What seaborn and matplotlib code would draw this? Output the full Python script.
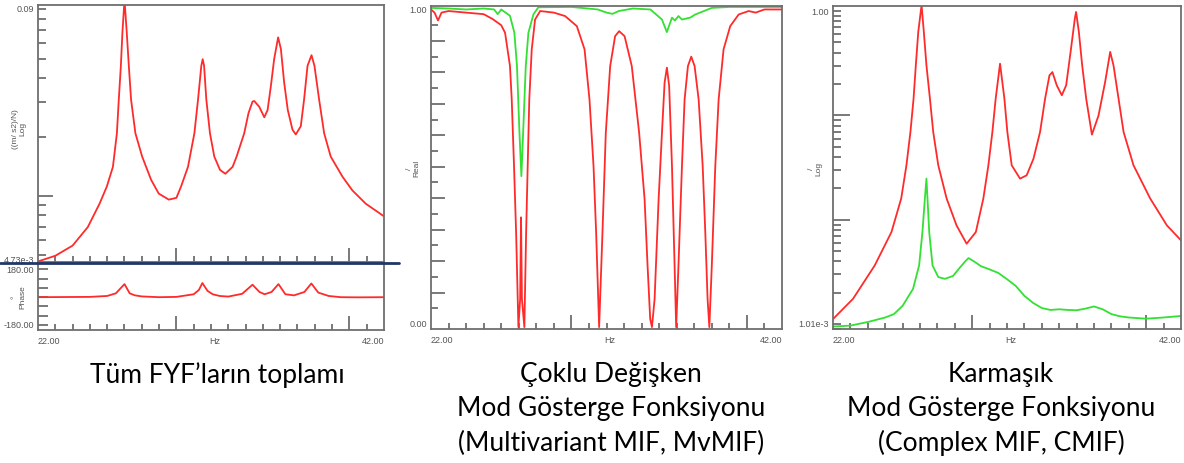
import numpy as np
import pandas as pd
import matplotlib
matplotlib.use("Agg")
import matplotlib.pyplot as plt
import matplotlib.transforms as mtrans
import seaborn as sns
from matplotlib.lines import Line2D
from matplotlib.ticker import FixedLocator, NullFormatter, LogLocator, NullLocator

# ---------------- data ----------------
# Left: sum of FRFs (log magnitude)
sum_hz = [22.0, 23.0, 24.0, 24.88, 25.56, 25.98, 26.33, 26.56, 26.67, 26.79, 26.88, 27.0,
          27.13, 27.25, 27.38, 27.63, 28.02, 28.54, 28.98, 29.56, 30.0, 30.27, 30.67, 31.04,
          31.25, 31.44, 31.52, 31.6, 31.73, 31.94, 32.19, 32.52, 32.83, 33.25, 33.48, 33.92,
          34.17, 34.4, 34.5, 34.79, 35.08, 35.27, 35.46, 35.65, 35.88, 36.04, 36.23, 36.44,
          36.71, 36.9, 37.19, 37.38, 37.58, 37.81, 37.98, 38.25, 38.54, 38.92, 39.6, 40.17,
          40.94, 42.0]
sum_mag = [0.00465, 0.00497, 0.0056, 0.00696, 0.00916, 0.0112, 0.0141, 0.0209, 0.0310,
           0.0461, 0.0682, 0.10, 0.0682, 0.0461, 0.0310, 0.0209, 0.0159, 0.0121, 0.0103,
           0.0096, 0.0098, 0.0112, 0.0141, 0.0209, 0.0310, 0.0461, 0.0498, 0.0461, 0.0310,
           0.0209, 0.0159, 0.0136, 0.0130, 0.0141, 0.0159, 0.0209, 0.0265, 0.0303, 0.0305,
           0.0285, 0.0252, 0.0274, 0.0363, 0.0498, 0.0643, 0.0561, 0.0378, 0.0274, 0.0218,
           0.0206, 0.0227, 0.0310, 0.0461, 0.0522, 0.0461, 0.0310, 0.0209, 0.0159, 0.01256,
           0.0107, 0.00916, 0.00789]

phase_hz = [22.0, 25.0, 26.0, 26.5, 27.0, 27.3, 27.6, 28.0, 29.0, 30.0, 31.0, 31.3, 31.5,
            31.8, 32.1, 32.5, 33.0, 33.8, 34.4, 34.8, 35.1, 35.5, 35.9, 36.3, 36.8, 37.4,
            37.8, 38.2, 38.8, 39.5, 40.5, 42.0]
phase_deg = [0, 2, 8, 25, 85, 25, 12, 5, 0, 2, 19, 47, 92, 41, 19, 8, 4, 22, 81, 34, 19,
             34, 85, 19, 12, 34, 89, 30, 8, 0, -1, 0]

# Middle: MvMIF (real)
mv_hz = [22.0, 22.2, 22.4, 22.6, 23.0, 24.0, 25.0, 25.5, 26.0, 26.22, 26.5, 26.6, 26.73,
         26.85, 26.98, 27.08, 27.13, 27.18, 27.32, 27.42, 27.51, 27.6, 27.74, 27.93, 28.22,
         29.0, 29.64, 30.31, 30.75, 31.03, 31.26, 31.41, 31.58, 31.77, 31.96, 32.21, 32.49,
         32.72, 33.03, 33.44, 33.86, 34.17, 34.34, 34.49, 34.59, 34.74, 34.97, 35.16, 35.31,
         35.44, 35.57, 35.73, 35.88, 35.97, 36.1, 36.3, 36.45, 36.64, 36.83, 37.02, 37.25,
         37.48, 37.63, 37.76, 37.86, 38.0, 38.2, 38.39, 38.67, 39.05, 39.53, 40.1, 40.5,
         41.0, 42.0]
mv_red = [1.0, 0.99, 0.965, 0.99, 0.995, 0.99, 0.985, 0.97, 0.95, 0.926, 0.82, 0.714, 0.503,
          0.29, -0.01, 0.08, 0.339, 0.08, -0.01, 0.29, 0.503, 0.714, 0.873, 0.968, 0.995,
          0.99, 0.979, 0.947, 0.873, 0.714, 0.503, 0.29, -0.01, 0.29, 0.608, 0.82, 0.915,
          0.931, 0.915, 0.82, 0.608, 0.397, 0.185, 0.016, -0.01, 0.079, 0.397, 0.608, 0.767,
          0.815, 0.757, 0.503, 0.185, -0.01, 0.185, 0.503, 0.714, 0.82, 0.85, 0.82, 0.714,
          0.503, 0.29, 0.079, -0.01, 0.185, 0.503, 0.714, 0.873, 0.947, 0.984, 0.995, 0.99,
          1.0, 1.0]
mv_green_hz = [22.0, 23.0, 24.0, 25.0, 25.6, 25.8, 26.0, 26.5, 26.75, 26.9, 27.04, 27.15,
               27.25, 27.4, 27.55, 27.84, 28.12, 30.0, 31.5, 32.0, 32.34, 32.7, 33.5, 34.5,
               35.16, 35.44, 35.73, 35.9, 36.1, 36.3, 36.77, 37.06, 38.0, 39.0, 42.0]
mv_green = [1.005, 1.003, 1.0, 1.003, 1.0, 0.985, 1.0, 0.98, 0.926, 0.82, 0.608, 0.47,
            0.608, 0.82, 0.926, 0.985, 1.007, 1.008, 1.0, 0.99, 0.986, 0.995, 1.003, 1.0,
            0.968, 0.928, 0.974, 0.965, 0.979, 0.968, 0.974, 0.984, 1.005, 1.008, 1.008]

# Right: CMIF (log)
cm_hz = [22.0, 23.15, 24.4, 25.36, 25.92, 26.22, 26.45, 26.63, 26.76, 26.9, 27.09, 27.22,
         27.37, 27.57, 27.76, 28.05, 28.53, 29.1, 29.68, 30.21, 30.64, 30.93, 31.16, 31.35,
         31.6, 31.85, 32.02, 32.27, 32.75, 33.13, 33.52, 33.9, 34.19, 34.44, 34.61, 34.86,
         35.15, 35.4, 35.68, 35.9, 35.97, 36.13, 36.32, 36.55, 36.88, 37.26, 37.64, 37.93,
         38.12, 38.41, 38.7, 39.27, 40.23, 41.19, 42.0]
cm_red = [0.00112, 0.00175, 0.00366, 0.00764, 0.0160, 0.0333, 0.0694, 0.145, 0.302, 0.631,
          1.14, 0.631, 0.302, 0.145, 0.0694, 0.0333, 0.0160, 0.00884, 0.0059, 0.00764,
          0.0160, 0.0333, 0.0694, 0.145, 0.313, 0.145, 0.0694, 0.0333, 0.0248, 0.0267,
          0.0384, 0.0694, 0.145, 0.242, 0.260, 0.194, 0.156, 0.194, 0.437, 0.85, 0.98,
          0.631, 0.302, 0.145, 0.0655, 0.0998, 0.209, 0.406, 0.302, 0.145, 0.0694, 0.0333,
          0.0160, 0.00884, 0.00636]
cm_green_hz = [22.0, 23.0, 24.0, 25.0, 25.5, 26.0, 26.6, 26.95, 27.14, 27.28, 27.37, 27.45,
               27.53, 27.72, 28.05, 28.43, 28.9, 29.3, 29.6, 29.79, 30.1, 30.5, 31.0, 31.5,
               32.0, 32.5, 33.0, 33.5, 34.0, 34.5, 35.0, 35.5, 36.0, 36.5, 37.0, 37.5, 38.0,
               38.5, 39.0, 40.0, 41.0, 42.0]
cm_green = [0.00095, 0.00097, 0.00105, 0.00116, 0.00125, 0.0015, 0.00218, 0.00366, 0.00764,
            0.0160, 0.0248, 0.0138, 0.00764, 0.00366, 0.00283, 0.00272, 0.0029, 0.0035,
            0.0040, 0.0043, 0.0040, 0.0036, 0.00335, 0.0031, 0.0027, 0.00233, 0.00187,
            0.0016, 0.00143, 0.00137, 0.00139, 0.00137, 0.00136, 0.00141, 0.00148, 0.00139,
            0.00125, 0.00119, 0.00116, 0.00113, 0.00116, 0.0012]

captions_left = ["Tüm FYF’ların toplamı"]
captions_mid = ["Çoklu Değişken", "Mod Gösterge Fonksiyonu", "(Multivariant MIF, MvMIF)"]
captions_right = ["Karmaşık", "Mod Gösterge Fonksiyonu", "(Complex MIF, CMIF)"]

# ---------------- style ----------------
sns.set_style("white")
plt.rcParams['font.family'] = ['Liberation Sans', 'DejaVu Sans']

RED = '#ff2a2a'
GREEN = '#33e033'
SPINE = '#6e6e6e'
TXT = '#555555'
W, H = 1184, 464

fig = plt.figure(figsize=(W / 100, H / 100), dpi=100)


def box(l, t, r, b):
    return [l / W, 1 - b / H, (r - l) / W, (b - t) / H]


def style(ax):
    for s in ax.spines.values():
        s.set_color(SPINE)
        s.set_linewidth(1.3)
    ax.set_facecolor('white')
    ax.tick_params(which='both', direction='in', colors=SPINE, width=1.3,
                   labelleft=False, labelbottom=False, left=True, bottom=True,
                   right=False, top=False)
    ax.set_xlim(22, 42)
    ax.xaxis.set_major_locator(FixedLocator([30, 40]))
    ax.xaxis.set_minor_locator(FixedLocator([h for h in range(23, 42) if h not in (30, 40)]))
    ax.tick_params(axis='x', which='major', length=10)
    ax.tick_params(axis='x', which='minor', length=4)
    ax.set_xlabel('')
    ax.set_ylabel('')


def bottom_labels(ax, px_below=6):
    off = mtrans.offset_copy(ax.get_xaxis_transform(), fig=fig, x=0,
                             y=-px_below * 0.72, units='points')
    ax.text(22.0, 0, '22.00', transform=off, fontsize=6.5, color=TXT, ha='left', va='top')
    ax.text(32.2, 0, 'Hz', transform=off, fontsize=6.5, color=TXT, ha='center', va='top')
    ax.text(42.0, 0, '42.00', transform=off, fontsize=6.5, color=TXT, ha='right', va='top')


def ylab(ax, y, s):
    tr = mtrans.offset_copy(ax.get_yaxis_transform(), fig=fig, x=-3, y=0, units='points')
    ax.text(0, y, s, transform=tr, fontsize=6.5, color=TXT, ha='right', va='center')


# ---------------- left: sum of FRFs ----------------
ax1 = fig.add_axes(box(38, 6, 384, 263))
sns.lineplot(x=sum_hz, y=sum_mag, ax=ax1, color=RED, lw=1.3, sort=False)
ax1.set_yscale('log')
ax1.set_ylim(0.00462, 0.094)
style(ax1)
ax1.yaxis.set_major_locator(FixedLocator([0.01]))
ax1.yaxis.set_minor_locator(FixedLocator([0.005, 0.006, 0.007, 0.008, 0.009, 0.02, 0.03,
                                          0.04, 0.05, 0.06, 0.07, 0.08, 0.09]))
ax1.yaxis.set_minor_formatter(NullFormatter())
ax1.tick_params(axis='y', which='major', length=11)
ax1.tick_params(axis='y', which='minor', length=6)
ylab(ax1, 0.09, '0.09')
ylab(ax1, 0.00478, '4.73e-3')
ax1.text(-0.055, 0.52, '((m/ s2)/N)\nLog', transform=ax1.transAxes, rotation=90,
         fontsize=6, color=TXT, ha='center', va='center', linespacing=1.1)

ax1p = fig.add_axes(box(38, 264, 384, 331))
sns.lineplot(x=phase_hz, y=phase_deg, ax=ax1p, color=RED, lw=1.3, sort=False)
ax1p.set_ylim(-213, 222)
style(ax1p)
ax1p.yaxis.set_major_locator(FixedLocator([-180, -120, -60, 0, 60, 120, 180]))
ax1p.yaxis.set_minor_locator(NullLocator())
ax1p.tick_params(axis='y', which='major', length=7)
ylab(ax1p, 180, '180.00')
ylab(ax1p, -180, '-180.00')
ax1p.text(-0.055, 0.5, '°\nPhase', transform=ax1p.transAxes, rotation=90,
          fontsize=6, color=TXT, ha='center', va='center', linespacing=1.1)
bottom_labels(ax1p)

fig.add_artist(Line2D([0, 399 / W], [1 - 264 / H] * 2, color='#1f3868', lw=2.0))

# ---------------- middle: MvMIF ----------------
ax2 = fig.add_axes(box(431, 7, 782, 330))
sns.lineplot(x=mv_hz, y=mv_red, ax=ax2, color=RED, lw=1.3, sort=False)
sns.lineplot(x=mv_green_hz, y=mv_green, ax=ax2, color=GREEN, lw=1.3, sort=False)
ax2.set_ylim(-0.016, 1.011)
style(ax2)
ax2.yaxis.set_major_locator(FixedLocator([0.1 * i for i in range(1, 10)]))
ax2.yaxis.set_minor_locator(FixedLocator([0.05 + 0.1 * i for i in range(10)]))
ax2.yaxis.set_minor_formatter(NullFormatter())
ax2.tick_params(axis='y', which='major', length=10)
ax2.tick_params(axis='y', which='minor', length=5)
ylab(ax2, 1.0, '1.00')
ylab(ax2, 0.0, '0.00')
ax2.text(-0.05, 0.5, '/\nReal', transform=ax2.transAxes, rotation=90,
         fontsize=6, color=TXT, ha='center', va='center', linespacing=1.1)
bottom_labels(ax2)

# ---------------- right: CMIF ----------------
ax3 = fig.add_axes(box(833, 7, 1181, 330))
sns.lineplot(x=cm_hz, y=cm_red, ax=ax3, color=RED, lw=1.3, sort=False)
sns.lineplot(x=cm_green_hz, y=cm_green, ax=ax3, color=GREEN, lw=1.3, sort=False)
ax3.set_yscale('log')
ax3.set_ylim(0.00090, 1.117)
style(ax3)
ax3.yaxis.set_major_locator(FixedLocator([0.01, 0.1]))
ax3.yaxis.set_minor_locator(LogLocator(base=10, subs=np.arange(2, 11) / 1.0, numticks=20))
ax3.yaxis.set_minor_formatter(NullFormatter())
ax3.tick_params(axis='y', which='major', length=12)
ax3.tick_params(axis='y', which='minor', length=6)
ylab(ax3, 1.0, '1.00')
ylab(ax3, 0.00101, '1.01e-3')
ax3.text(-0.05, 0.5, '/\nLog', transform=ax3.transAxes, rotation=90,
         fontsize=6, color=TXT, ha='center', va='center', linespacing=1.1)
bottom_labels(ax3)

# ---------------- captions ----------------
cap_kw = dict(fontsize=19, family=['Lato', 'DejaVu Sans'], color='black', ha='center',
              va='center')
for i, s in enumerate(captions_left):
    fig.text(217 / W, 1 - (375 + 34 * i) / H, s, **cap_kw)
for i, s in enumerate(captions_mid):
    fig.text(611 / W, 1 - (375 + 34 * i) / H, s, **cap_kw)
for i, s in enumerate(captions_right):
    fig.text(1001 / W, 1 - (375 + 34 * i) / H, s, **cap_kw)

fig.savefig('out.png', dpi=100, facecolor='white')
